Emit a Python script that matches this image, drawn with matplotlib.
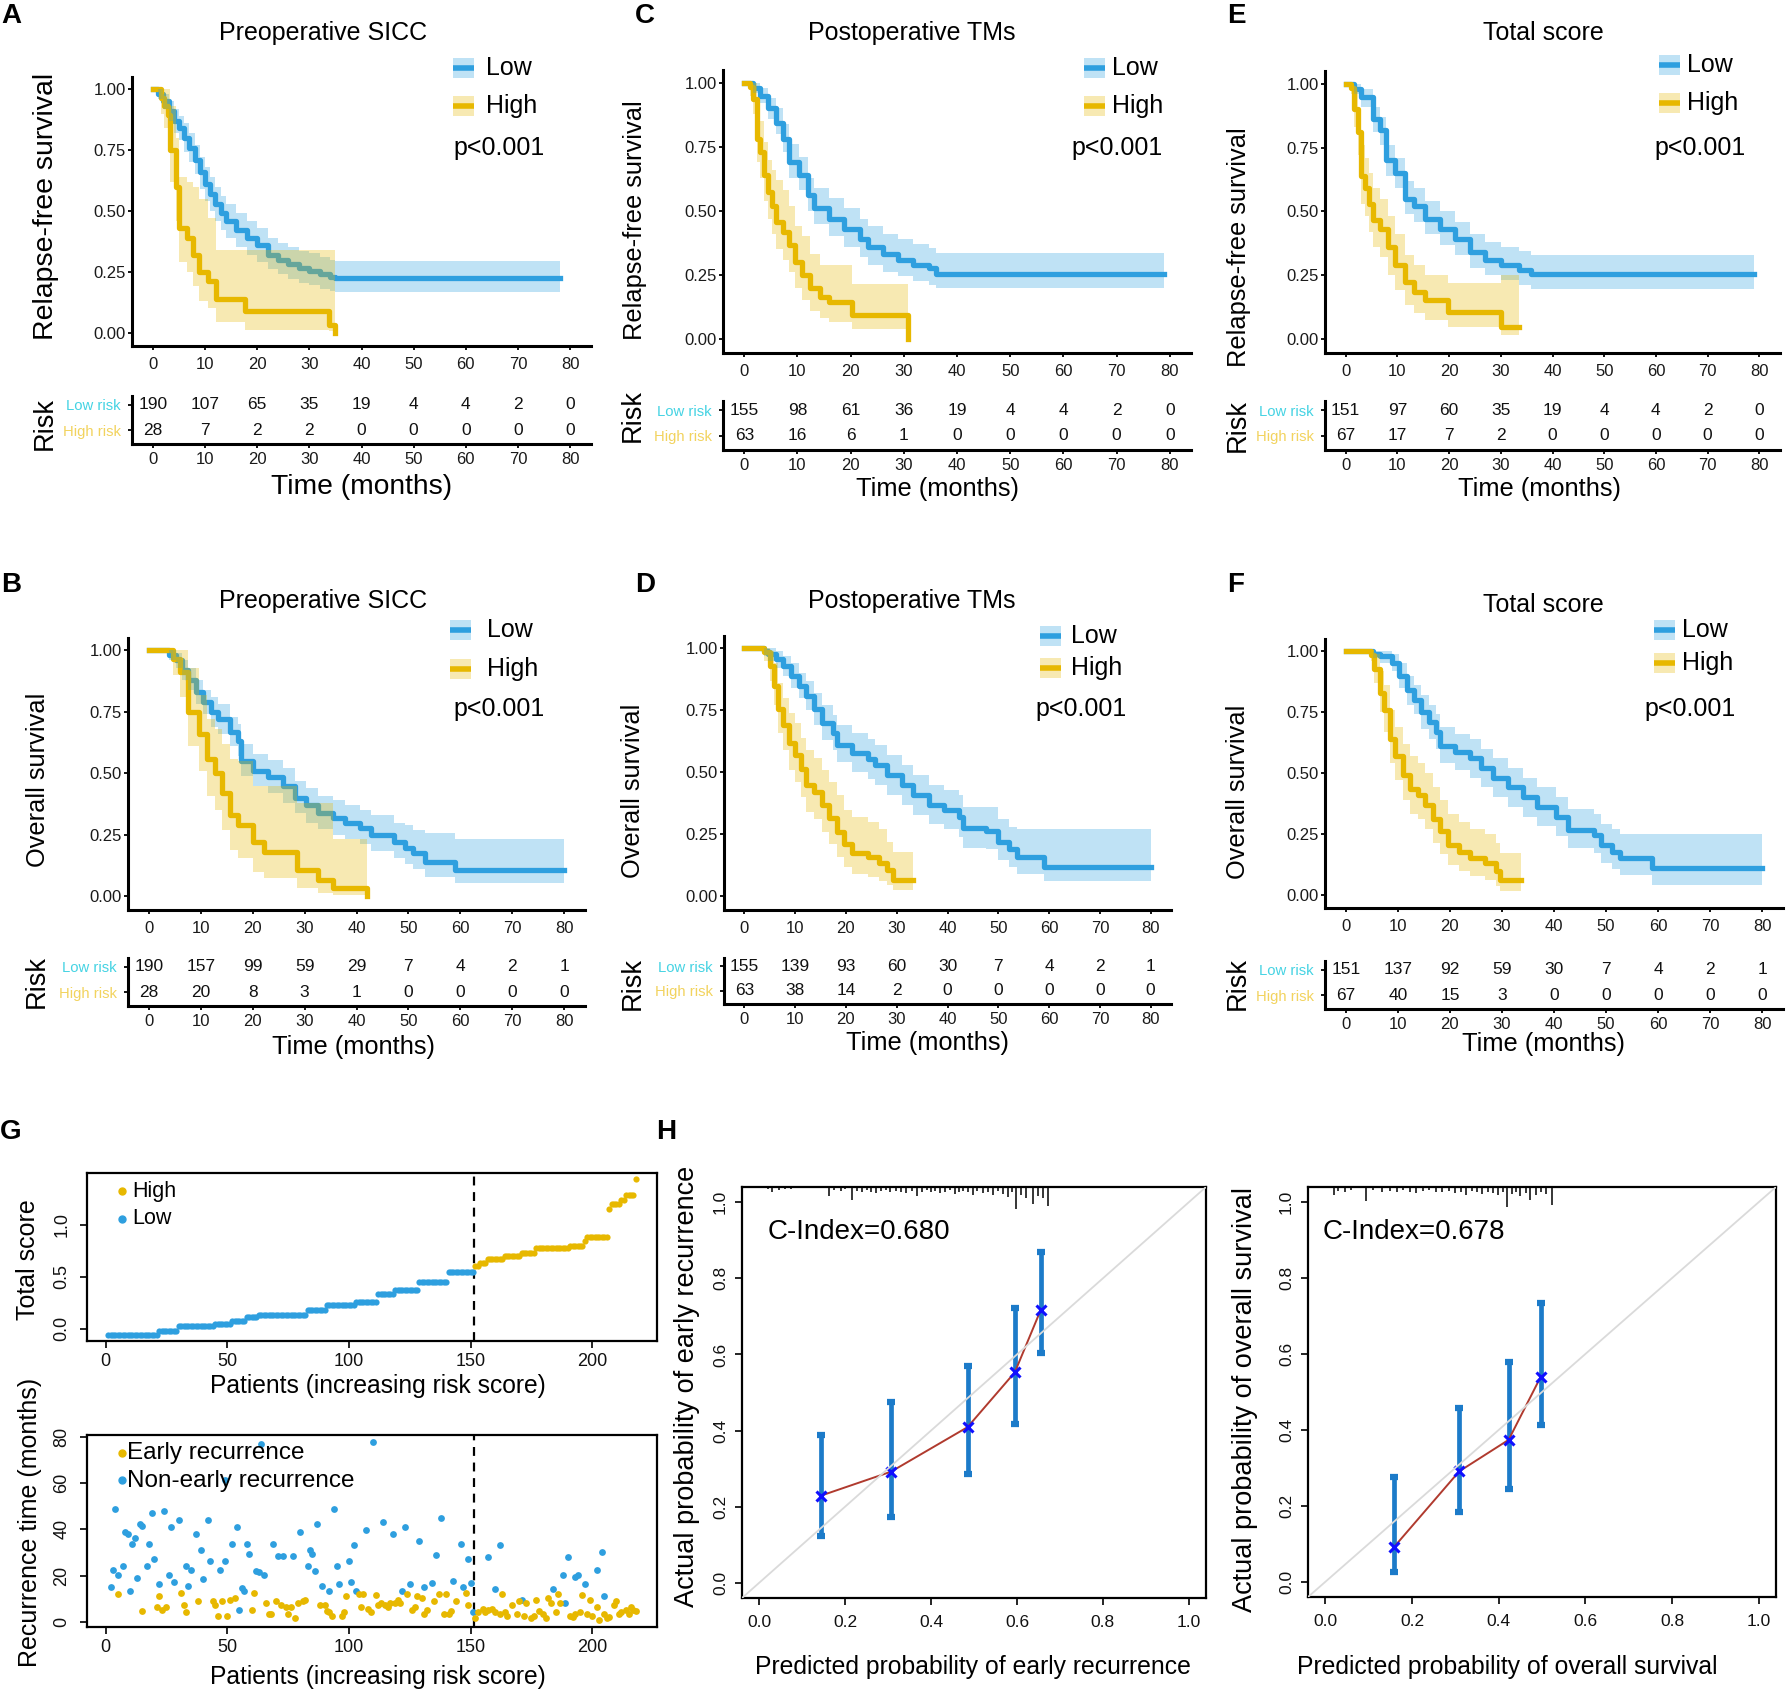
import matplotlib
matplotlib.use("Agg")
import matplotlib.pyplot as plt
from matplotlib.patches import Rectangle
import numpy as np

plt.rcParams["font.family"] = ["Liberation Sans", "DejaVu Sans"]

W, H = 1788, 1704
BLUE = "#2E9FDF"
ORANGE = "#E7B800"
LOW_TXT = "#45D3E3"
HIGH_TXT = "#F2D35E"

# ---------------- data: Kaplan-Meier curves (time, survival, lower CI, upper CI)
A_low_t = [0, 1, 2, 3, 4, 5, 6, 7, 8, 9, 10, 11, 12, 13, 14, 16, 18, 20, 22, 24, 26, 28, 30, 32, 34, 35, 78]
A_low_s = [1.00, 0.98, 0.95, 0.91, 0.87, 0.84, 0.80, 0.76, 0.71, 0.66, 0.61, 0.57, 0.53, 0.49, 0.46, 0.42, 0.39, 0.36, 0.32, 0.30, 0.28, 0.265, 0.255, 0.24, 0.23, 0.225, 0.225]
A_low_lo = [1.00, 0.96, 0.92, 0.87, 0.82, 0.79, 0.74, 0.70, 0.65, 0.59, 0.54, 0.50, 0.46, 0.42, 0.39, 0.35, 0.32, 0.29, 0.26, 0.24, 0.22, 0.205, 0.195, 0.18, 0.17, 0.165, 0.165]
A_low_hi = [1.00, 1.00, 0.98, 0.95, 0.92, 0.89, 0.86, 0.82, 0.77, 0.72, 0.68, 0.64, 0.60, 0.56, 0.53, 0.49, 0.46, 0.43, 0.39, 0.37, 0.35, 0.335, 0.325, 0.31, 0.30, 0.295, 0.295]
A_high_t = [0, 1.5, 2.2, 2.9, 3.3, 4.4, 5.1, 6.6, 7.7, 8.8, 10.6, 12.1, 17.6, 33.8, 35.0]
A_high_s = [1.00, 0.964, 0.929, 0.893, 0.75, 0.60, 0.43, 0.39, 0.32, 0.25, 0.21, 0.14, 0.09, 0.03, 0.0]
A_high_lo = [1.00, 0.90, 0.84, 0.79, 0.62, 0.46, 0.29, 0.25, 0.19, 0.13, 0.10, 0.045, 0.012, 0.005, 0.0]
A_high_hi = [1.00, 1.00, 1.00, 1.00, 0.93, 0.80, 0.64, 0.62, 0.60, 0.55, 0.47, 0.34, 0.34, 0.34, 0.0]

C_low_t = [0, 1.6, 3.0, 4.5, 5.9, 7.3, 8.4, 10.2, 12.0, 13.1, 16.0, 18.8, 21.7, 23.2, 26.0, 28.9, 31.8, 34.7, 36.1, 79]
C_low_s = [1.00, 0.98, 0.95, 0.90, 0.845, 0.78, 0.69, 0.64, 0.56, 0.51, 0.47, 0.43, 0.39, 0.36, 0.33, 0.31, 0.29, 0.275, 0.255, 0.255]
C_low_lo = [1.00, 0.96, 0.92, 0.86, 0.80, 0.73, 0.63, 0.58, 0.50, 0.45, 0.40, 0.36, 0.32, 0.29, 0.26, 0.245, 0.225, 0.21, 0.197, 0.197]
C_low_hi = [1.00, 1.00, 0.98, 0.94, 0.90, 0.84, 0.76, 0.71, 0.63, 0.59, 0.55, 0.51, 0.47, 0.44, 0.41, 0.39, 0.37, 0.355, 0.337, 0.337]
C_high_t = [0, 1.0, 1.6, 2.3, 3.0, 3.7, 4.5, 5.2, 5.9, 7.3, 8.4, 9.5, 10.9, 12.4, 14.2, 16.0, 20.3, 30.7]
C_high_s = [1.00, 0.984, 0.935, 0.78, 0.73, 0.64, 0.575, 0.52, 0.456, 0.417, 0.365, 0.30, 0.249, 0.197, 0.165, 0.145, 0.093, 0.0]
C_high_lo = [1.00, 0.95, 0.88, 0.69, 0.63, 0.54, 0.47, 0.41, 0.35, 0.31, 0.26, 0.20, 0.15, 0.11, 0.08, 0.065, 0.04, 0.0]
C_high_hi = [1.00, 1.00, 1.00, 0.89, 0.85, 0.77, 0.70, 0.66, 0.62, 0.58, 0.52, 0.44, 0.40, 0.33, 0.29, 0.29, 0.216, 0.0]

E_low_t = [0, 1.6, 3.0, 5.2, 6.7, 7.8, 9.6, 11.4, 13.2, 15.4, 18.3, 21.2, 24.1, 27.0, 30.0, 33.6, 35.8, 79]
E_low_s = [1.00, 0.98, 0.95, 0.86, 0.82, 0.70, 0.65, 0.55, 0.52, 0.47, 0.43, 0.39, 0.34, 0.31, 0.29, 0.27, 0.256, 0.256]
E_low_lo = [1.00, 0.96, 0.91, 0.81, 0.76, 0.64, 0.59, 0.49, 0.46, 0.41, 0.37, 0.33, 0.28, 0.25, 0.23, 0.21, 0.197, 0.197]
E_low_hi = [1.00, 1.00, 0.98, 0.91, 0.87, 0.76, 0.71, 0.62, 0.59, 0.54, 0.50, 0.46, 0.41, 0.38, 0.36, 0.345, 0.33, 0.33]
E_high_t = [0, 1.0, 1.6, 2.3, 3.0, 3.8, 4.5, 5.2, 6.7, 8.1, 9.6, 11.4, 13.2, 15.4, 19.8, 30.0, 33.6]
E_high_s = [1.00, 0.985, 0.90, 0.81, 0.64, 0.59, 0.53, 0.465, 0.43, 0.36, 0.29, 0.224, 0.184, 0.152, 0.106, 0.048, 0.048]
E_high_lo = [1.00, 0.96, 0.83, 0.72, 0.53, 0.48, 0.42, 0.36, 0.32, 0.25, 0.19, 0.135, 0.10, 0.075, 0.045, 0.016, 0.016]
E_high_hi = [1.00, 1.00, 0.97, 0.90, 0.76, 0.71, 0.65, 0.59, 0.55, 0.48, 0.41, 0.33, 0.29, 0.25, 0.22, 0.25, 0.25]

B_low_t = [0, 3.8, 5.3, 6.4, 7.5, 9.0, 10.4, 11.9, 13.4, 15.6, 17.1, 17.8, 20.0, 23.0, 25.9, 28.1, 30.3, 32.5, 35.5, 37.7, 40.6, 42.8, 47.2, 49.4, 50.9, 53.1, 59.0, 80]
B_low_s = [1.00, 0.98, 0.96, 0.92, 0.88, 0.83, 0.79, 0.75, 0.72, 0.67, 0.63, 0.55, 0.51, 0.485, 0.45, 0.40, 0.37, 0.34, 0.32, 0.30, 0.28, 0.25, 0.22, 0.195, 0.175, 0.14, 0.108, 0.108]
B_low_lo = [1.00, 0.96, 0.93, 0.88, 0.84, 0.78, 0.74, 0.69, 0.66, 0.61, 0.57, 0.49, 0.45, 0.42, 0.38, 0.34, 0.30, 0.275, 0.25, 0.235, 0.215, 0.185, 0.155, 0.13, 0.11, 0.08, 0.054, 0.054]
B_low_hi = [1.00, 1.00, 0.99, 0.96, 0.93, 0.88, 0.84, 0.81, 0.78, 0.73, 0.70, 0.62, 0.58, 0.555, 0.52, 0.47, 0.44, 0.41, 0.39, 0.37, 0.35, 0.33, 0.30, 0.29, 0.27, 0.256, 0.235, 0.235]
B_high_t = [0, 4.6, 6.0, 7.5, 9.7, 11.2, 12.7, 14.1, 15.6, 17.1, 20.0, 22.2, 28.5, 32.5, 35.5, 42.0]
B_high_s = [1.00, 0.964, 0.91, 0.75, 0.66, 0.56, 0.50, 0.42, 0.33, 0.29, 0.22, 0.18, 0.108, 0.067, 0.034, 0.0]
B_high_lo = [1.00, 0.90, 0.81, 0.61, 0.51, 0.41, 0.35, 0.27, 0.19, 0.155, 0.10, 0.074, 0.035, 0.013, 0.005, 0.0]
B_high_hi = [1.00, 1.00, 1.00, 0.93, 0.82, 0.72, 0.68, 0.62, 0.56, 0.55, 0.45, 0.45, 0.38, 0.38, 0.235, 0.0]

D_low_t = [0, 3.9, 4.7, 6.2, 7.7, 9.2, 10.7, 12.2, 13.7, 15.2, 17.5, 18.2, 21.2, 24.3, 25.8, 28.0, 31.0, 33.3, 36.3, 39.3, 42.3, 43.1, 47.6, 49.9, 52.1, 53.6, 58.9, 80]
D_low_s = [1.00, 0.99, 0.977, 0.957, 0.93, 0.89, 0.85, 0.81, 0.756, 0.70, 0.66, 0.61, 0.58, 0.555, 0.53, 0.49, 0.45, 0.41, 0.37, 0.35, 0.32, 0.275, 0.265, 0.22, 0.19, 0.16, 0.12, 0.12]
D_low_lo = [1.00, 0.97, 0.95, 0.92, 0.89, 0.84, 0.80, 0.75, 0.69, 0.63, 0.59, 0.54, 0.50, 0.475, 0.45, 0.41, 0.37, 0.33, 0.29, 0.27, 0.24, 0.195, 0.19, 0.145, 0.12, 0.09, 0.06, 0.06]
D_low_hi = [1.00, 1.00, 1.00, 0.99, 0.97, 0.94, 0.90, 0.87, 0.82, 0.77, 0.73, 0.69, 0.66, 0.635, 0.61, 0.57, 0.53, 0.49, 0.45, 0.43, 0.41, 0.36, 0.36, 0.31, 0.28, 0.27, 0.27, 0.27]
D_high_t = [0, 3.9, 5.0, 5.8, 6.6, 7.7, 8.8, 9.9, 11.1, 12.2, 13.7, 15.2, 16.7, 18.2, 19.7, 21.2, 24.3, 26.5, 28.0, 29.2, 33.3]
D_high_s = [1.00, 0.984, 0.93, 0.85, 0.756, 0.69, 0.62, 0.57, 0.515, 0.45, 0.42, 0.37, 0.315, 0.26, 0.21, 0.174, 0.16, 0.134, 0.107, 0.067, 0.067]
D_high_lo = [1.00, 0.95, 0.87, 0.77, 0.66, 0.59, 0.51, 0.46, 0.40, 0.34, 0.31, 0.26, 0.21, 0.16, 0.12, 0.09, 0.08, 0.06, 0.045, 0.027, 0.027]
D_high_hi = [1.00, 1.00, 0.99, 0.94, 0.86, 0.80, 0.74, 0.70, 0.64, 0.59, 0.56, 0.51, 0.46, 0.41, 0.35, 0.32, 0.30, 0.27, 0.22, 0.18, 0.18]

F_low_t = [0, 5.2, 6.6, 8.8, 10.2, 11.7, 13.1, 14.5, 16.0, 17.4, 18.1, 21.0, 23.9, 26.0, 28.2, 31.1, 34.0, 36.8, 40.4, 42.6, 47.6, 49.1, 51.2, 52.7, 58.8, 80]
F_low_s = [1.00, 0.99, 0.98, 0.952, 0.90, 0.84, 0.80, 0.75, 0.71, 0.67, 0.61, 0.585, 0.56, 0.52, 0.48, 0.44, 0.40, 0.36, 0.32, 0.265, 0.245, 0.204, 0.177, 0.15, 0.109, 0.109]
F_low_lo = [1.00, 0.97, 0.95, 0.92, 0.85, 0.78, 0.74, 0.68, 0.64, 0.60, 0.54, 0.51, 0.48, 0.44, 0.40, 0.36, 0.32, 0.28, 0.24, 0.19, 0.17, 0.13, 0.105, 0.08, 0.04, 0.04]
F_low_hi = [1.00, 1.00, 1.00, 0.99, 0.95, 0.90, 0.86, 0.82, 0.78, 0.74, 0.69, 0.66, 0.64, 0.60, 0.56, 0.52, 0.48, 0.44, 0.40, 0.35, 0.33, 0.29, 0.27, 0.25, 0.25, 0.25]
F_high_t = [0, 4.8, 5.5, 6.6, 7.3, 8.4, 9.5, 10.9, 12.4, 13.8, 15.3, 16.7, 18.1, 19.6, 21.7, 23.9, 26.8, 28.9, 29.6, 33.6]
F_high_s = [1.00, 0.985, 0.925, 0.83, 0.76, 0.64, 0.57, 0.49, 0.435, 0.41, 0.37, 0.31, 0.26, 0.204, 0.177, 0.15, 0.13, 0.095, 0.061, 0.061]
F_high_lo = [1.00, 0.96, 0.87, 0.75, 0.67, 0.54, 0.47, 0.39, 0.33, 0.31, 0.27, 0.21, 0.165, 0.12, 0.095, 0.075, 0.06, 0.035, 0.014, 0.014]
F_high_hi = [1.00, 1.00, 0.99, 0.92, 0.86, 0.76, 0.69, 0.62, 0.57, 0.54, 0.50, 0.44, 0.39, 0.33, 0.30, 0.27, 0.25, 0.21, 0.17, 0.17]

# numbers at risk at 0, 10, ..., 80 months
risk_times = [0, 10, 20, 30, 40, 50, 60, 70, 80]
A_risk_low = [190, 107, 65, 35, 19, 4, 4, 2, 0]
A_risk_high = [28, 7, 2, 2, 0, 0, 0, 0, 0]
C_risk_low = [155, 98, 61, 36, 19, 4, 4, 2, 0]
C_risk_high = [63, 16, 6, 1, 0, 0, 0, 0, 0]
E_risk_low = [151, 97, 60, 35, 19, 4, 4, 2, 0]
E_risk_high = [67, 17, 7, 2, 0, 0, 0, 0, 0]
B_risk_low = [190, 157, 99, 59, 29, 7, 4, 2, 1]
B_risk_high = [28, 20, 8, 3, 1, 0, 0, 0, 0]
D_risk_low = [155, 139, 93, 60, 30, 7, 4, 2, 1]
D_risk_high = [63, 38, 14, 2, 0, 0, 0, 0, 0]
F_risk_low = [151, 137, 92, 59, 30, 7, 4, 2, 1]
F_risk_high = [67, 40, 15, 3, 0, 0, 0, 0, 0]

# ---------------- data: panel G
# sorted total score as runs (level, number of patients)
low_levels = [-0.06, -0.02, 0.02, 0.045, 0.07, 0.11, 0.13, 0.18, 0.23, 0.26, 0.33, 0.37, 0.45, 0.55]
low_counts = [21, 8, 15, 7, 6, 5, 20, 8, 12, 9, 7, 10, 12, 11]
high_levels = [0.60, 0.63, 0.67, 0.70, 0.73, 0.78, 0.80, 0.84, 0.88, 1.15, 1.20, 1.24, 1.29, 1.44]
high_counts = [2, 3, 7, 7, 6, 14, 6, 1, 9, 1, 4, 2, 4, 1]

nonearly_pat = [2, 3, 4, 5, 7, 8, 9, 10, 11, 12, 13, 14, 15, 17, 18, 19, 20, 22, 24, 26, 27, 28, 30,
                33, 34, 35, 37, 39, 40, 42, 43, 47, 49, 49, 52, 54, 55, 56, 57, 58, 59, 62, 63, 64, 65,
                69, 71, 73, 77, 80, 83, 84, 85, 86, 87, 89, 92, 94, 95, 96, 100, 101, 102, 103, 107,
                110, 114, 118, 122, 123, 125, 129, 131, 134, 136, 138, 143, 146, 147, 149, 150, 151,
                157, 160, 162, 171, 184, 188, 189, 190, 193, 194, 197, 202, 204, 205]
nonearly_time = [15.1, 22.3, 48.9, 20.4, 24.2, 39.0, 37.9, 13.1, 33.5, 36.3, 19.1, 42.2, 41.4, 24.2,
                 33.8, 47.0, 27.1, 16.3, 48.1, 20.4, 41.1, 17.2, 44.1, 24.2, 15.6, 22.3, 38.2, 31.1,
                 18.3, 44.1, 26.3, 22.3, 26.3, 61.4, 33.5, 41.1, 5.1, 14.7, 13.5, 33.8, 29.5, 21.8,
                 21.5, 76.8, 20.4, 33.8, 28.4, 28.4, 28.4, 39.0, 24.2, 31.1, 29.5, 22.0, 42.2, 15.6,
                 13.1, 48.9, 24.2, 16.3, 26.3, 17.2, 33.1, 13.1, 39.8, 77.8, 43.0, 38.2, 13.1, 41.1,
                 16.3, 35.1, 15.1, 16.7, 29.0, 44.9, 17.5, 33.8, 15.1, 27.1, 16.7, 4.0, 27.9, 14.0,
                 33.1, 9.2, 14.3, 20.4, 8.3, 27.9, 19.4, 20.4, 16.3, 22.3, 30.0, 11.2]
early_pat = [5, 15, 21, 22, 23, 25, 31, 32, 33, 38, 44, 45, 46, 48, 50, 51, 53, 60, 61, 66, 67, 68,
             70, 72, 74, 75, 76, 78, 79, 81, 82, 88, 90, 91, 92, 93, 97, 98, 99, 104, 105, 106, 108,
             109, 111, 112, 113, 115, 116, 117, 119, 120, 121, 124, 126, 127, 128, 130, 131, 132,
             135, 137, 139, 140, 141, 142, 144, 148, 149, 152, 153, 155, 156, 157, 159, 160, 162,
             163, 164, 165, 167, 169, 170, 172, 173, 175, 176, 177, 178, 180, 181, 182, 183, 185,
             186, 187, 191, 192, 193, 195, 196, 198, 199, 200, 202, 203, 205, 206, 207, 209, 210,
             211, 212, 214, 215, 216, 217, 218]
early_time = [12.0, 4.8, 6.4, 11.2, 5.1, 6.4, 12.3, 7.2, 4.0, 8.8, 8.8, 7.2, 2.4, 8.8, 2.4, 9.6,
              10.4, 5.1, 12.3, 8.0, 3.2, 3.2, 8.8, 7.2, 6.4, 3.2, 6.4, 1.6, 8.0, 8.8, 9.6, 7.2, 7.2,
              4.8, 4.0, 2.4, 2.4, 4.0, 11.2, 12.0, 6.4, 12.0, 5.6, 4.0, 11.5, 7.2, 8.0, 7.2, 6.4,
              8.0, 8.0, 9.6, 8.0, 12.0, 5.1, 6.4, 11.2, 10.4, 3.2, 5.1, 8.8, 12.0, 3.2, 12.0, 3.5,
              4.5, 8.8, 12.3, 7.2, 1.6, 4.0, 5.6, 4.0, 5.1, 5.6, 4.0, 3.2, 12.0, 4.0, 2.4, 7.2, 3.2,
              8.8, 2.4, 8.0, 1.6, 2.4, 9.6, 4.8, 3.2, 1.6, 10.4, 8.0, 4.0, 12.0, 8.0, 2.4, 1.9, 3.2,
              4.0, 11.5, 3.2, 9.6, 2.4, 6.4, 0.8, 3.2, 1.6, 1.9, 7.2, 8.8, 3.2, 4.0, 5.1, 3.2, 6.4,
              5.1, 4.5]

# ---------------- data: panel H (calibration)
cal1_pred = [0.144, 0.307, 0.485, 0.595, 0.655]
cal1_obs = [0.229, 0.292, 0.409, 0.553, 0.716]
cal1_lo = [0.122, 0.172, 0.285, 0.416, 0.604]
cal1_hi = [0.389, 0.474, 0.570, 0.721, 0.870]
cal2_pred = [0.158, 0.309, 0.423, 0.497]
cal2_obs = [0.091, 0.291, 0.374, 0.540]
cal2_lo = [0.027, 0.183, 0.244, 0.413]
cal2_hi = [0.276, 0.457, 0.580, 0.735]
rug1_x = [0.02, 0.03, 0.045, 0.06, 0.075, 0.163, 0.175, 0.19, 0.20, 0.216, 0.228, 0.24, 0.25, 0.26,
          0.272, 0.283, 0.295, 0.305, 0.318, 0.33, 0.342, 0.355, 0.367, 0.378, 0.39, 0.40, 0.41,
          0.42, 0.432, 0.443, 0.455, 0.465, 0.475, 0.487, 0.497, 0.508, 0.52, 0.532, 0.545, 0.555,
          0.567, 0.578, 0.588, 0.597, 0.61, 0.62, 0.637, 0.648, 0.66, 0.673]
rug1_len = [0.006, 0.012, 0.008, 0.006, 0.004, 0.024, 0.008, 0.01, 0.006, 0.034, 0.01, 0.014, 0.008,
            0.012, 0.016, 0.01, 0.008, 0.014, 0.01, 0.012, 0.016, 0.01, 0.024, 0.012, 0.008, 0.014,
            0.01, 0.016, 0.012, 0.008, 0.018, 0.012, 0.01, 0.014, 0.02, 0.01, 0.016, 0.012, 0.02,
            0.01, 0.018, 0.026, 0.014, 0.057, 0.02, 0.03, 0.044, 0.024, 0.03, 0.05]
rug2_x = [0.019, 0.03, 0.045, 0.06, 0.093, 0.11, 0.13, 0.15, 0.165, 0.18, 0.195, 0.21, 0.225, 0.24,
          0.255, 0.27, 0.285, 0.30, 0.313, 0.325, 0.338, 0.35, 0.362, 0.375, 0.387, 0.398, 0.41,
          0.419, 0.43, 0.44, 0.45, 0.462, 0.473, 0.485, 0.497, 0.51, 0.522]
rug2_len = [0.02, 0.01, 0.012, 0.008, 0.037, 0.008, 0.012, 0.01, 0.014, 0.008, 0.012, 0.016, 0.01,
            0.008, 0.014, 0.012, 0.01, 0.016, 0.012, 0.02, 0.01, 0.014, 0.018, 0.012, 0.016, 0.02,
            0.014, 0.053, 0.018, 0.012, 0.024, 0.016, 0.034, 0.02, 0.014, 0.018, 0.047]

fig = plt.figure(figsize=(W / 100, H / 100), dpi=100)


def px_axes(l, t, r, b):
    return fig.add_axes([l / W, 1 - b / H, (r - l) / W, (b - t) / H])


def km_style(ax):
    for side in ("top", "right"):
        ax.spines[side].set_visible(False)
    for side in ("left", "bottom"):
        ax.spines[side].set_linewidth(2.2)
    ax.tick_params(length=3, width=1.3, labelsize=12, labelcolor="#1a1a1a")


panels = [
    dict(box=(132, 77, 591, 346), tab=(396, 444),
         low=(A_low_t, A_low_s, A_low_lo, A_low_hi), high=(A_high_t, A_high_s, A_high_lo, A_high_hi),
         rl=A_risk_low, rh=A_risk_high),
    dict(box=(723, 70, 1191, 353), tab=(401, 450),
         low=(C_low_t, C_low_s, C_low_lo, C_low_hi), high=(C_high_t, C_high_s, C_high_lo, C_high_hi),
         rl=C_risk_low, rh=C_risk_high),
    dict(box=(1325, 71, 1780, 353), tab=(401, 450),
         low=(E_low_t, E_low_s, E_low_lo, E_low_hi), high=(E_high_t, E_high_s, E_high_lo, E_high_hi),
         rl=E_risk_low, rh=E_risk_high),
    dict(box=(128, 638, 585, 910), tab=(958, 1006),
         low=(B_low_t, B_low_s, B_low_lo, B_low_hi), high=(B_high_t, B_high_s, B_high_lo, B_high_hi),
         rl=B_risk_low, rh=B_risk_high),
    dict(box=(724, 636, 1171, 910), tab=(958, 1004),
         low=(D_low_t, D_low_s, D_low_lo, D_low_hi), high=(D_high_t, D_high_s, D_high_lo, D_high_hi),
         rl=D_risk_low, rh=D_risk_high),
    dict(box=(1325, 639, 1783, 908), tab=(961, 1009),
         low=(F_low_t, F_low_s, F_low_lo, F_low_hi), high=(F_high_t, F_high_s, F_high_lo, F_high_hi),
         rl=F_risk_low, rh=F_risk_high),
]

for p in panels:
    l, t, r, b = p["box"]
    ax = px_axes(l, t, r, b)
    for (ct, cs, clo, chi), col in ((p["low"], BLUE), (p["high"], ORANGE)):
        ax.step(ct, cs, where="post", color=col, lw=3.8, zorder=3)
        ax.fill_between(ct, clo, chi, step="post", color=col, alpha=0.3, lw=0, zorder=4)
    ax.set_xlim(-4, 84)
    ax.set_ylim(-0.055, 1.05)
    ax.set_xticks(risk_times)
    ax.set_yticks([0, 0.25, 0.5, 0.75, 1.0])
    ax.set_yticklabels(["0.00", "0.25", "0.50", "0.75", "1.00"])
    km_style(ax)
    ax.tick_params(axis="x", pad=5)
    ax.tick_params(axis="y", pad=1.5)

    tt, tb = p["tab"]
    tab = px_axes(l, tt, r, tb)
    tab.set_xlim(-4, 84)
    tab.set_ylim(-0.55, 1.35)
    for x, n in zip(risk_times, p["rl"]):
        tab.text(x, 1, str(n), ha="center", va="center", fontsize=12.5, color="#111111")
    for x, n in zip(risk_times, p["rh"]):
        tab.text(x, 0, str(n), ha="center", va="center", fontsize=12.5, color="#111111")
    tab.set_xticks(risk_times)
    tab.set_yticks([1, 0])
    tab.set_yticklabels(["Low risk", "High risk"])
    km_style(tab)
    tab.tick_params(axis="y", labelsize=10.7, pad=5)
    tab.tick_params(axis="x", pad=2.5)
    tl = tab.get_yticklabels()
    tl[0].set_color(LOW_TXT)
    tl[1].set_color(HIGH_TXT)

# ---------------- panel G
total_low = np.repeat(low_levels, low_counts)
total_high = np.repeat(high_levels, high_counts)
n_low = len(total_low)
n_all = n_low + len(total_high)
pat = np.arange(1, n_all + 1)
g_xlim = (1 - 0.04 * (n_all - 1), n_all + 0.04 * (n_all - 1))
cut = n_low + 0.5


def r_box(ax):
    for s in ax.spines.values():
        s.set_linewidth(1.6)
    ax.tick_params(length=5, width=1.2, labelsize=13, labelcolor="#111111")


g1 = px_axes(87, 1173, 657, 1341)
g1.scatter(pat[:n_low], total_low, s=20, color=BLUE, lw=0, zorder=3)
g1.scatter(pat[n_low:], total_high, s=20, color=ORANGE, lw=0, zorder=3)
g1.axvline(cut, color="black", ls=(0, (4, 3)), lw=1.6)
g1.set_xlim(*g_xlim)
g1.set_ylim(-0.12, 1.50)
g1.set_xticks([0, 50, 100, 150, 200])
g1.set_yticks([0.0, 0.5, 1.0])
g1.set_yticklabels(["0.0", "0.5", "1.0"])
r_box(g1)
g1.tick_params(axis="y", labelrotation=90, pad=7)
g1.tick_params(axis="x", pad=4)
for lab in g1.get_yticklabels():
    lab.set_va("center")

g2 = px_axes(87, 1435, 657, 1627)
g2.scatter(nonearly_pat, nonearly_time, s=24, color=BLUE, lw=0, zorder=3)
g2.scatter(early_pat, early_time, s=24, color=ORANGE, lw=0, zorder=3)
g2.axvline(cut, color="black", ls=(0, (4, 3)), lw=1.6)
g2.set_xlim(*g_xlim)
g2.set_ylim(-2.3, 80.9)
g2.set_xticks([0, 50, 100, 150, 200])
g2.set_yticks([0, 20, 40, 60, 80])
r_box(g2)
g2.tick_params(axis="y", labelrotation=90, pad=7)
g2.tick_params(axis="x", pad=4)
for lab in g2.get_yticklabels():
    lab.set_va("center")

# ---------------- panel H
cal_sets = [
    ((742, 1187, 1206, 1598), cal1_pred, cal1_obs, cal1_lo, cal1_hi, rug1_x, rug1_len),
    ((1308, 1187, 1776, 1597), cal2_pred, cal2_obs, cal2_lo, cal2_hi, rug2_x, rug2_len),
]
for bx, pred, obs, lo, hi, rx, rlen in cal_sets:
    ax = px_axes(*bx)
    pred = np.array(pred)
    obs = np.array(obs)
    ax.errorbar(pred, obs, yerr=[obs - np.array(lo), np.array(hi) - obs], fmt="none",
                ecolor="#1C7BC9", elinewidth=3.4, capsize=3, capthick=4.5, zorder=2)
    ax.plot(pred, obs, color="#B03A2E", lw=1.4, zorder=3)
    ax.plot(pred, obs, "x", color="#1010FF", ms=7, mew=2.2, zorder=4)
    ax.plot([-0.04, 1.04], [-0.04, 1.04], color="#DADADA", lw=1.3, zorder=5)
    ax.vlines(rx, 1.04 - np.array(rlen), 1.04, color="black", lw=1.1, zorder=6)
    ax.set_xlim(-0.04, 1.04)
    ax.set_ylim(-0.04, 1.04)
    ticks = [0.0, 0.2, 0.4, 0.6, 0.8, 1.0]
    ax.set_xticks(ticks)
    ax.set_yticks(ticks)
    ax.set_xticklabels(["0.0", "0.2", "0.4", "0.6", "0.8", "1.0"])
    ax.set_yticklabels(["0.0", "0.2", "0.4", "0.6", "0.8", "1.0"])
    r_box(ax)
    ax.tick_params(labelsize=12.5)
    ax.tick_params(axis="y", labelrotation=90, pad=5)
    ax.tick_params(axis="x", pad=7)
    for lab in ax.get_yticklabels():
        lab.set_va("center")

# ---------------- overlay for free text, legends and panel letters
ov = fig.add_axes([0, 0, 1, 1], zorder=10)
ov.patch.set_alpha(0)
ov.set_xlim(0, W)
ov.set_ylim(H, 0)
ov.axis("off")


def txt(x, y, s, size, ha="center", va="center", rot=0, weight="normal", color="black"):
    ov.text(x, y, s, fontsize=size, ha=ha, va=va, rotation=rot, fontweight=weight, color=color)


letters = [("A", 1, 16), ("C", 635, 16), ("E", 1227, 16), ("B", 1, 585), ("D", 635, 585),
           ("F", 1227, 585), ("G", 0, 1132), ("H", 656, 1132)]
for s, x, y in letters:
    txt(x, y, s, 20, ha="left", weight="bold")

titles = [("Preoperative SICC", 323, 33), ("Postoperative TMs", 912, 33), ("Total score", 1543, 33),
          ("Preoperative SICC", 323, 601), ("Postoperative TMs", 912, 601), ("Total score", 1543, 605)]
for s, x, y in titles:
    txt(x, y, s, 18)

# (text, x, y, size)
ylabs = [("Relapse-free survival", 46, 206, 20.5), ("Relapse-free survival", 635, 220, 18.3),
         ("Relapse-free survival", 1239, 247, 18.3), ("Overall survival", 38, 780, 18.3),
         ("Overall survival", 633, 791, 18.3), ("Overall survival", 1238, 792, 18.3)]
for s, x, y, fs in ylabs:
    txt(x, y, s, fs, rot=90)

for x, y in [(45, 424), (633, 416), (1238, 426), (37, 982), (633, 984), (1238, 984)]:
    txt(x, y, "Risk", 19.5, rot=90)

for x, y, fs in [(362, 487, 20.3), (937, 489, 18.3), (1540, 489, 18.3), (353, 1047, 18.3),
                 (928, 1043, 18.3), (1544, 1044, 18.3)]:
    txt(x, y, "Time (months)", fs)

# legend: key left, Low y, High y, text left, p-value left, p-value y
legends = [(453, 68, 106, 486, 453, 148), (1084, 68, 106, 1112, 1071, 148),
           (1659, 65, 103, 1687, 1654, 148), (450, 630, 669, 487, 453, 709),
           (1040, 636, 668, 1071, 1035, 709), (1654, 630, 663, 1682, 1644, 709)]
for kx, ly, hy, tx, px, py in legends:
    for yy, col, lab in ((ly, BLUE, "Low"), (hy, ORANGE, "High")):
        ov.add_patch(Rectangle((kx, yy - 10), 21, 20, facecolor=col, alpha=0.3, lw=0))
        ov.plot([kx, kx + 21], [yy, yy], color=col, lw=4, solid_capstyle="butt")
        txt(tx, yy, lab, 18, ha="left")
    txt(px, py, "p<0.001", 18, ha="left")

# panel G texts
txt(28, 1260, "Total score", 18, rot=90)
txt(30, 1522, "Recurrence time (months)", 18, rot=90)
txt(378, 1386, "Patients (increasing risk score)", 17.7)
txt(378, 1677, "Patients (increasing risk score)", 17.7)
ov.plot([122], [1191], "o", ms=5, color=ORANGE)
ov.plot([122], [1219], "o", ms=5, color=BLUE)
txt(132, 1191, "High", 15.5, ha="left")
txt(132, 1219, "Low", 15.5, ha="left")
ov.plot([122], [1453], "o", ms=5, color=ORANGE)
ov.plot([122], [1480], "o", ms=5, color=BLUE)
txt(127, 1453, "Early recurrence", 17.5, ha="left")
txt(127, 1481, "Non-early recurrence", 17.5, ha="left")

# panel H texts
txt(768, 1232, "C-Index=0.680", 20, ha="left")
txt(1323, 1232, "C-Index=0.678", 20, ha="left")
txt(687, 1386, "Actual probability of early recurrence", 19.5, rot=90)
txt(1245, 1399, "Actual probability of overall survival", 19.5, rot=90)
txt(973, 1667, "Predicted probability of early recurrence", 17.8)
txt(1507, 1667, "Predicted probability of overall survival", 17.8)

fig.savefig("out.png", dpi=100)
